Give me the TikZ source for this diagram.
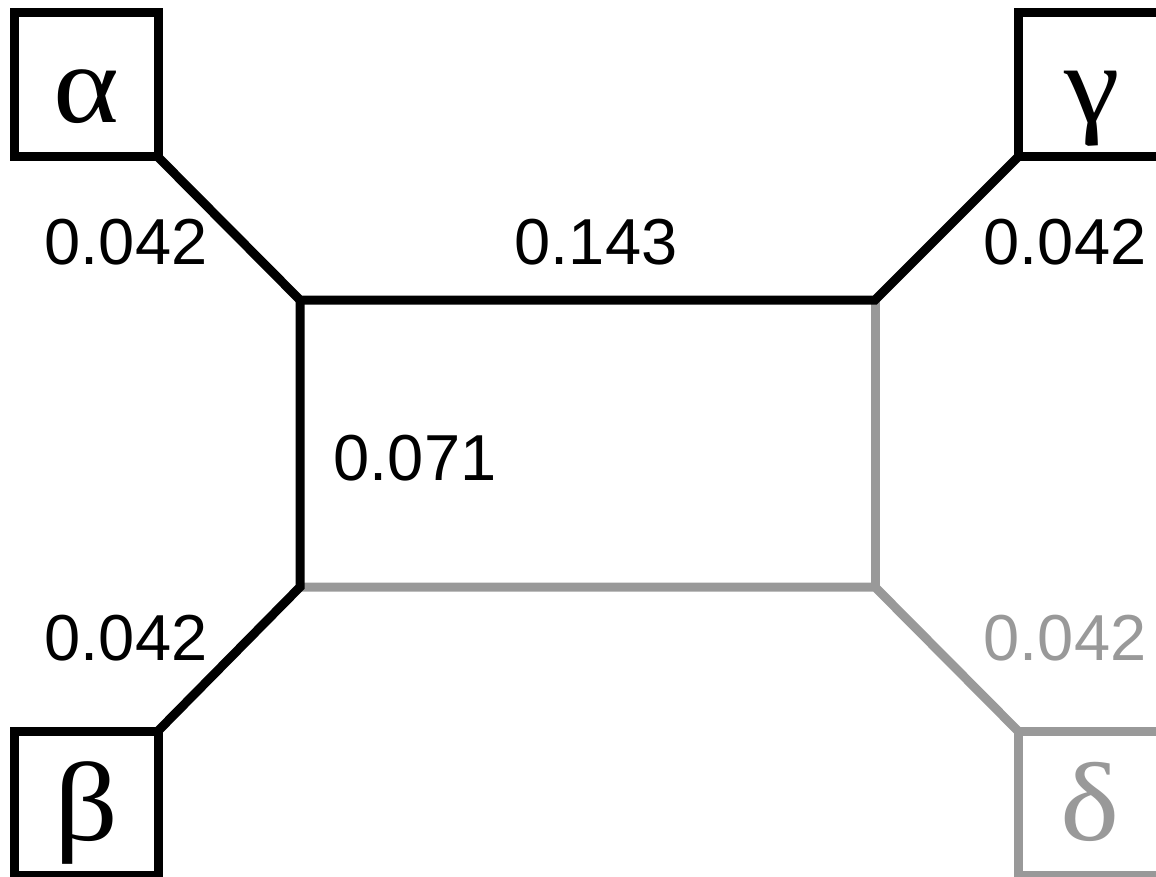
\documentclass[tikz,border=0pt]{standalone}
\usepackage{fontspec}
\setmainfont{Liberation Sans}
\newfontfamily\greekfont{Liberation Serif}
\definecolor{lgray}{RGB}{153,153,153}
\newcommand{\gk}[1]{\scalebox{1.12}[1]{#1}}
\begin{document}
\begin{tikzpicture}[x=1pt,y=-1pt,
  leaf/.style={draw,line width=9pt,minimum size=144pt,inner sep=0pt,outer sep=0pt,fill=white},
  greek/.style={anchor=base,inner sep=0pt,font=\greekfont\fontsize{112}{112}\selectfont},
  num/.style={anchor=base,inner sep=0pt,font=\fontsize{65}{65}\selectfont},
  edge/.style={line width=9pt,line join=miter,line cap=butt}]
\useasboundingbox (0,0) rectangle (1156,877);
% inner junctions
\coordinate (tl) at (300,300);
\coordinate (tr) at (875,300);
\coordinate (bl) at (300,587);
\coordinate (br) at (875,587);
% leaf boxes
\node[leaf] (a) at (86,85) {};
\node[leaf] (g) at (1090,85) {};
\node[leaf] (b) at (86,803) {};
\node[leaf,draw=lgray] (d) at (1090,803) {};
% gray edges first
\draw[edge,lgray] (d.north west) -- (br) -- (bl);
\draw[edge,lgray] (br) -- (tr);
% black edges
\draw[edge] (a.south east) -- (tl) -- (tr) -- (g.south west);
\draw[edge] (tl) -- (bl) -- (b.north east);
% greek labels
\node[greek] (la) at (86,123) {\gk{α}};
\node[greek] (lg) at (1092,123) {\gk{γ}};
\node[greek] (lb) at (86,840) {\gk{β}};
\node[greek,text=lgray] (ld) at (1090,840) {\gk{δ}};
% numbers
\node[num] (n1) at (126,265) {0.042};
\node[num] (n2) at (596,265) {0.143};
\node[num] (n3) at (1065,265) {0.042};
\node[num] (n4) at (415,480) {0.071};
\node[num] (n5) at (126,660) {0.042};
\node[num,text=lgray] (n6) at (1065,660) {0.042};
\end{tikzpicture}
\end{document}
